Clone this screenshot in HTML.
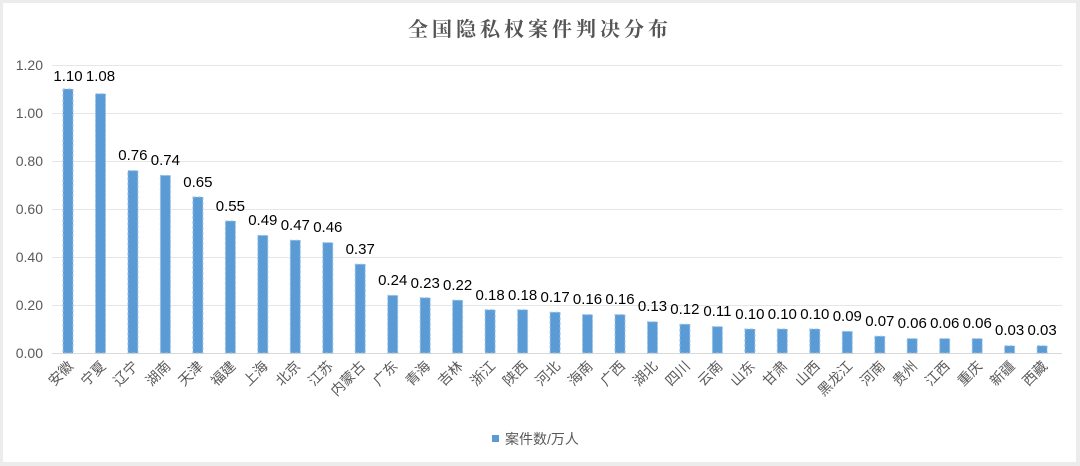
<!DOCTYPE html>
<html><head><meta charset="utf-8"><style>
html,body{margin:0;padding:0;background:#f2f2f2;}
svg{display:block;}
</style></head><body>
<svg width="1080" height="466" viewBox="0 0 1080 466" xmlns="http://www.w3.org/2000/svg">
<rect x="0" y="0" width="1080" height="466" fill="#ececec"/>
<rect x="3" y="3" width="1073" height="459" fill="#ffffff"/>
<text x="540" y="36" text-anchor="middle" font-family="'Noto Serif CJK SC','Liberation Serif',serif" font-size="20" letter-spacing="4" fill="#555" font-weight="bold">全国隐私权案件判决分布</text>
<g stroke="#e6e6e6" stroke-width="1">
<line x1="52" y1="65.5" x2="1062" y2="65.5"/>
<line x1="52" y1="113.5" x2="1062" y2="113.5"/>
<line x1="52" y1="161.5" x2="1062" y2="161.5"/>
<line x1="52" y1="209.5" x2="1062" y2="209.5"/>
<line x1="52" y1="257.5" x2="1062" y2="257.5"/>
<line x1="52" y1="305.5" x2="1062" y2="305.5"/>
<line x1="52" y1="353.5" x2="1062" y2="353.5" stroke="#d9d9d9"/>
</g>
<g font-family="'Liberation Sans',sans-serif" font-size="14" fill="#595959" text-anchor="end">
<text x="43" y="70">1.20</text>
<text x="43" y="118">1.00</text>
<text x="43" y="166">0.80</text>
<text x="43" y="214">0.60</text>
<text x="43" y="262">0.40</text>
<text x="43" y="310">0.20</text>
<text x="43" y="358">0.00</text>
</g>
<g fill="#5b9bd5" stroke="#9dc3e6" stroke-width="1" stroke-dasharray="3,2">
<rect x="63" y="89" width="10" height="264"/>
<rect x="95.5" y="93.8" width="10" height="259.2"/>
<rect x="127.9" y="170.6" width="10" height="182.4"/>
<rect x="160.4" y="175.4" width="10" height="177.6"/>
<rect x="192.9" y="197" width="10" height="156"/>
<rect x="225.4" y="221" width="10" height="132"/>
<rect x="257.8" y="235.4" width="10" height="117.6"/>
<rect x="290.3" y="240.2" width="10" height="112.8"/>
<rect x="322.8" y="242.6" width="10" height="110.4"/>
<rect x="355.2" y="264.2" width="10" height="88.8"/>
<rect x="387.7" y="295.4" width="10" height="57.6"/>
<rect x="420.2" y="297.8" width="10" height="55.2"/>
<rect x="452.6" y="300.2" width="10" height="52.8"/>
<rect x="485.1" y="309.8" width="10" height="43.2"/>
<rect x="517.6" y="309.8" width="10" height="43.2"/>
<rect x="550.1" y="312.2" width="10" height="40.8"/>
<rect x="582.5" y="314.6" width="10" height="38.4"/>
<rect x="615" y="314.6" width="10" height="38.4"/>
<rect x="647.5" y="321.8" width="10" height="31.2"/>
<rect x="679.9" y="324.2" width="10" height="28.8"/>
<rect x="712.4" y="326.6" width="10" height="26.4"/>
<rect x="744.9" y="329" width="10" height="24"/>
<rect x="777.3" y="329" width="10" height="24"/>
<rect x="809.8" y="329" width="10" height="24"/>
<rect x="842.3" y="331.4" width="10" height="21.6"/>
<rect x="874.8" y="336.2" width="10" height="16.8"/>
<rect x="907.2" y="338.6" width="10" height="14.4"/>
<rect x="939.7" y="338.6" width="10" height="14.4"/>
<rect x="972.2" y="338.6" width="10" height="14.4"/>
<rect x="1004.6" y="345.8" width="10" height="7.2"/>
<rect x="1037.1" y="345.8" width="10" height="7.2"/>
</g>
<g font-family="'Liberation Sans',sans-serif" font-size="15" fill="#000" text-anchor="middle">
<text x="68" y="81">1.10</text>
<text x="100.5" y="81">1.08</text>
<text x="132.9" y="160">0.76</text>
<text x="165.4" y="165">0.74</text>
<text x="197.9" y="187">0.65</text>
<text x="230.4" y="211">0.55</text>
<text x="262.8" y="225">0.49</text>
<text x="295.3" y="230">0.47</text>
<text x="327.8" y="232">0.46</text>
<text x="360.2" y="254">0.37</text>
<text x="392.7" y="285">0.24</text>
<text x="425.2" y="288">0.23</text>
<text x="457.6" y="290">0.22</text>
<text x="490.1" y="300">0.18</text>
<text x="522.6" y="300">0.18</text>
<text x="555.1" y="302">0.17</text>
<text x="587.5" y="304">0.16</text>
<text x="620" y="304">0.16</text>
<text x="652.5" y="311">0.13</text>
<text x="684.9" y="314">0.12</text>
<text x="717.4" y="316">0.11</text>
<text x="749.9" y="319">0.10</text>
<text x="782.3" y="319">0.10</text>
<text x="814.8" y="319">0.10</text>
<text x="847.3" y="321">0.09</text>
<text x="879.8" y="326">0.07</text>
<text x="912.2" y="328">0.06</text>
<text x="944.7" y="328">0.06</text>
<text x="977.2" y="328">0.06</text>
<text x="1009.6" y="335">0.03</text>
<text x="1042.1" y="335">0.03</text>
</g>
<g font-family="'Liberation Sans','Noto Sans CJK SC',sans-serif" font-size="14" fill="#595959" text-anchor="end">
<text transform="translate(74,367) rotate(-45)">安徽</text>
<text transform="translate(106.5,367) rotate(-45)">宁夏</text>
<text transform="translate(138.9,367) rotate(-45)">辽宁</text>
<text transform="translate(171.4,367) rotate(-45)">湖南</text>
<text transform="translate(203.9,367) rotate(-45)">天津</text>
<text transform="translate(236.4,367) rotate(-45)">福建</text>
<text transform="translate(268.8,367) rotate(-45)">上海</text>
<text transform="translate(301.3,367) rotate(-45)">北京</text>
<text transform="translate(333.8,367) rotate(-45)">江苏</text>
<text transform="translate(366.2,367) rotate(-45)">内蒙古</text>
<text transform="translate(398.7,367) rotate(-45)">广东</text>
<text transform="translate(431.2,367) rotate(-45)">青海</text>
<text transform="translate(463.6,367) rotate(-45)">吉林</text>
<text transform="translate(496.1,367) rotate(-45)">浙江</text>
<text transform="translate(528.6,367) rotate(-45)">陕西</text>
<text transform="translate(561.1,367) rotate(-45)">河北</text>
<text transform="translate(593.5,367) rotate(-45)">海南</text>
<text transform="translate(626,367) rotate(-45)">广西</text>
<text transform="translate(658.5,367) rotate(-45)">湖北</text>
<text transform="translate(690.9,367) rotate(-45)">四川</text>
<text transform="translate(723.4,367) rotate(-45)">云南</text>
<text transform="translate(755.9,367) rotate(-45)">山东</text>
<text transform="translate(788.3,367) rotate(-45)">甘肃</text>
<text transform="translate(820.8,367) rotate(-45)">山西</text>
<text transform="translate(853.3,367) rotate(-45)">黑龙江</text>
<text transform="translate(885.8,367) rotate(-45)">河南</text>
<text transform="translate(918.2,367) rotate(-45)">贵州</text>
<text transform="translate(950.7,367) rotate(-45)">江西</text>
<text transform="translate(983.2,367) rotate(-45)">重庆</text>
<text transform="translate(1015.6,367) rotate(-45)">新疆</text>
<text transform="translate(1048.1,367) rotate(-45)">西藏</text>
</g>
<rect x="492" y="435" width="7" height="7" fill="#5b9bd5"/>
<text x="505" y="444" font-family="'Liberation Sans','Noto Sans CJK SC',sans-serif" font-size="14" fill="#595959">案件数/万人</text>
</svg>
</body></html>
